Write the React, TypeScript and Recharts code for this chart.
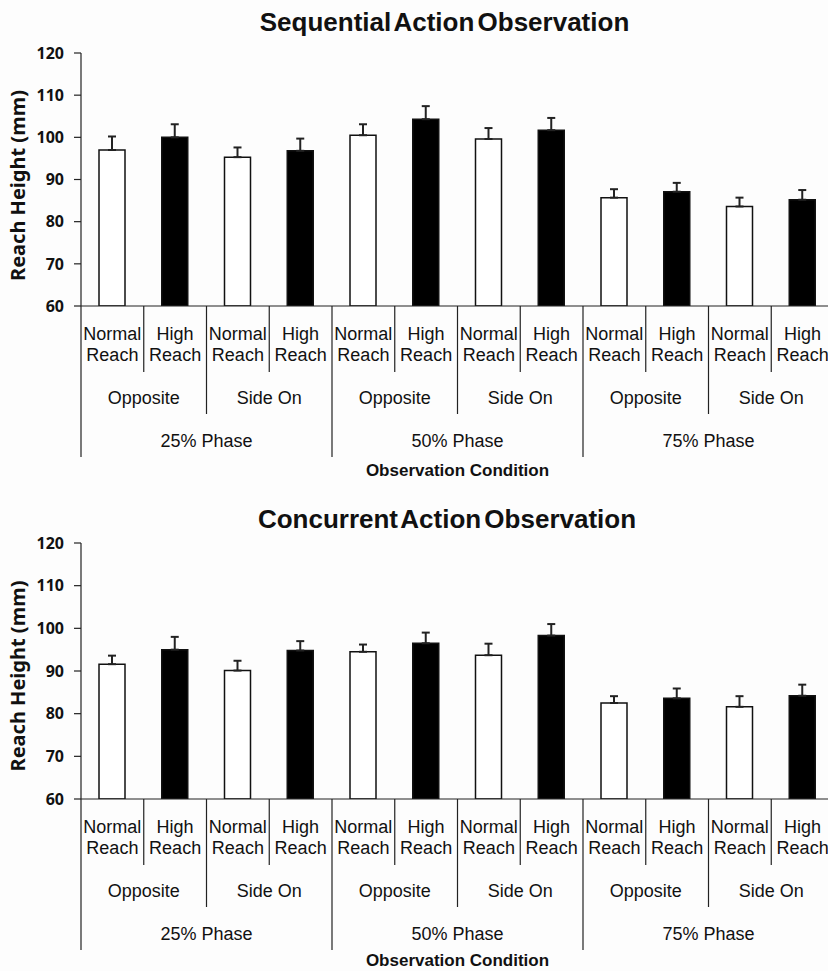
import React from 'react';
import { BarChart, Bar, XAxis, YAxis, ErrorBar, Cell, Label } from 'recharts';

// ---------- data ----------
const reachFirstLine = ['Normal', 'High'];
const reachSecondLine = 'Reach';
const viewLabels = ['Opposite', 'Side On'];
const phaseLabels = ['25% Phase', '50% Phase', '75% Phase'];
const yTicks = [60, 70, 80, 90, 100, 110, 120];

const sequentialMeans = [97.0, 100.0, 95.3, 96.8, 100.5, 104.3, 99.6, 101.7, 85.7, 87.1, 83.6, 85.2];
const sequentialErrors = [3.2, 3.1, 2.3, 2.9, 2.6, 3.1, 2.6, 2.9, 2.0, 2.1, 2.1, 2.3];

const concurrentMeans = [91.6, 95.0, 90.1, 94.8, 94.5, 96.5, 93.7, 98.3, 82.5, 83.6, 81.6, 84.2];
const concurrentErrors = [2.0, 3.0, 2.3, 2.2, 1.7, 2.5, 2.7, 2.7, 1.6, 2.3, 2.5, 2.6];

const barFills = ['#ffffff', '#000000'];

// ---------- layout ----------
const CHART_W = 850;
const Y_W = 81;
const RIGHT = 16;
const PLOT_W = CHART_W - Y_W - RIGHT;
const N = sequentialMeans.length;
const BAND = PLOT_W / N;

const LABEL_FONT = '"Liberation Sans", Arial, sans-serif';
const TICK_FONT = '"Noto Sans", sans-serif';

function buildRows(means: number[], errors: number[]) {
  return means.map((m, i) => ({
    key: `c${i}`,
    reach: reachFirstLine[i % 2],
    view: viewLabels[Math.floor(i / 2) % 2],
    phase: phaseLabels[Math.floor(i / 4)],
    value: m,
    err: [0, errors[i]],
  }));
}

const CategoryTick = (props: any) => {
  const { x, y, index } = props;
  const i = index as number;
  const left = x - BAND / 2;
  const depth = i % 4 === 0 ? 151 : i % 2 === 0 ? 108 : 66;
  const textProps = { fontFamily: LABEL_FONT, fontSize: 18, fill: '#111', textAnchor: 'middle' as const };
  return (
    <g>
      <line x1={left} y1={y} x2={left} y2={y + depth} stroke="#222" strokeWidth={1.2} />
      {i === N - 1 && (
        <line x1={x + BAND / 2} y1={y} x2={x + BAND / 2} y2={y + 151} stroke="#222" strokeWidth={1.2} />
      )}
      <text x={x} y={y + 34} {...textProps}>{reachFirstLine[i % 2]}</text>
      <text x={x} y={y + 55} {...textProps}>{reachSecondLine}</text>
      {i % 2 === 0 && (
        <text x={x + BAND / 2} y={y + 97.5} {...textProps}>{viewLabels[Math.floor(i / 2) % 2]}</text>
      )}
      {i % 4 === 0 && (
        <text x={x + BAND * 1.5} y={y + 140.5} {...textProps}>{phaseLabels[Math.floor(i / 4)]}</text>
      )}
    </g>
  );
};

type PanelProps = {
  title: string;
  means: number[];
  errors: number[];
  top: number;
  height: number;
  marginTop: number;
  xAxisHeight: number;
  titleTop: number;
  titleCenter: number;
  yLabelShift: number;
  obsOffset: number;
};

function Panel(p: PanelProps) {
  const rows = buildRows(p.means, p.errors);
  return (
    <div style={{ position: 'absolute', left: 0, top: p.top, width: CHART_W, height: p.height }}>
      <div
        style={{
          position: 'absolute',
          left: 0,
          top: p.titleTop,
          width: p.titleCenter * 2,
          textAlign: 'center',
          fontFamily: LABEL_FONT,
          fontWeight: 'bold',
          fontSize: 26,
          lineHeight: '26px',
          color: '#111',
          whiteSpace: 'nowrap',
          wordSpacing: -4,
        }}
      >
        {p.title}
      </div>
      <BarChart
        width={CHART_W}
        height={p.height}
        data={rows}
        margin={{ top: p.marginTop, right: RIGHT, left: 0, bottom: 0 }}
        barCategoryGap={0}
      >
        <XAxis
          dataKey="key"
          height={p.xAxisHeight}
          interval={0}
          tickLine={false}
          tickSize={0}
          tickMargin={0}
          axisLine={{ stroke: '#222', strokeWidth: 1.2 }}
          tick={<CategoryTick />}
        >
          <Label
            content={(lp: any) => {
              const vb = lp.viewBox || {};
              return (
                <text
                  x={vb.x + vb.width / 2}
                  y={vb.y + p.obsOffset}
                  textAnchor="middle"
                  fontFamily={LABEL_FONT}
                  fontWeight="bold"
                  fontSize={17}
                  fill="#111"
                >
                  Observation Condition
                </text>
              );
            }}
          />
        </XAxis>
        <YAxis
          width={Y_W}
          domain={[60, 120]}
          ticks={yTicks}
          interval={0}
          allowDataOverflow
          tickSize={7}
          tickMargin={10}
          tickLine={{ stroke: '#222', strokeWidth: 1.2 }}
          axisLine={{ stroke: '#222', strokeWidth: 1.2 }}
          tick={{ fontFamily: TICK_FONT, fontWeight: 'bold', fontSize: 16, fill: '#111' }}
        >
          <Label
            content={(lp: any) => {
              const vb = lp.viewBox || {};
              const cy = vb.y + vb.height / 2 + p.yLabelShift;
              return (
                <text
                  x={17.5}
                  y={cy}
                  transform={`rotate(-90, 17.5, ${cy})`}
                  textAnchor="middle"
                  dominantBaseline="central"
                  fontFamily={TICK_FONT}
                  fontWeight="bold"
                  fontSize={20}
                  fill="#111"
                >
                  Reach Height (mm)
                </text>
              );
            }}
          />
        </YAxis>
        <Bar dataKey="value" barSize={26} stroke="#111" strokeWidth={1.5} isAnimationActive={false}>
          {rows.map((r, i) => (
            <Cell key={r.key} fill={barFills[i % 2]} />
          ))}
          <ErrorBar dataKey="err" direction="y" width={4} stroke="#222" strokeWidth={2} isAnimationActive={false} />
        </Bar>
      </BarChart>
    </div>
  );
}

export default function App() {
  return (
    <div
      style={{
        position: 'fixed',
        left: 0,
        top: 0,
        width: 828,
        height: 971,
        overflow: 'hidden',
        background: '#fdfdfd',
      }}
    >
      <Panel
        title="Sequential Action Observation"
        means={sequentialMeans}
        errors={sequentialErrors}
        top={0}
        height={490}
        marginTop={53}
        xAxisHeight={184}
        titleTop={9}
        titleCenter={444.5}
        yLabelShift={6}
        obsOffset={170}
      />
      <Panel
        title="Concurrent Action Observation"
        means={concurrentMeans}
        errors={concurrentErrors}
        top={490}
        height={481}
        marginTop={53}
        xAxisHeight={172}
        titleTop={16}
        titleCenter={447}
        yLabelShift={5}
        obsOffset={167}
      />
    </div>
  );
}
